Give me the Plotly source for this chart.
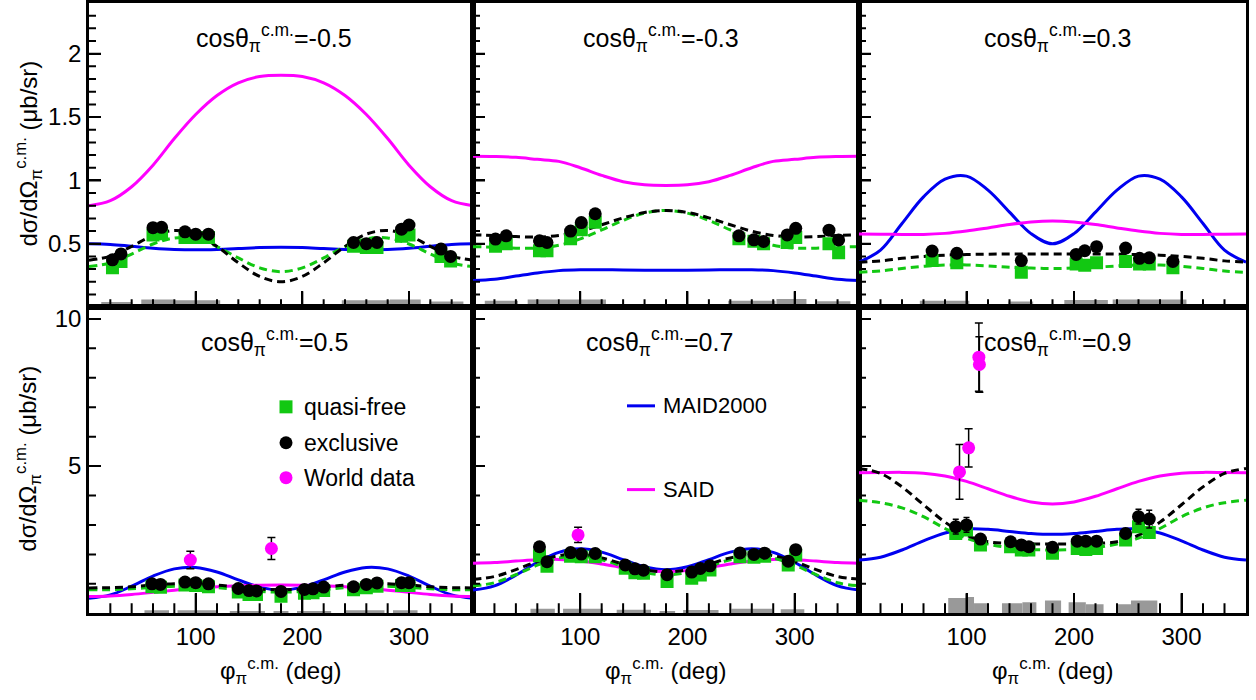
import plotly.graph_objects as go

W, H = 1256, 700
FONT = "Liberation Sans"

GREEN = "#12c812"
BLUE = "#0000f0"
MAGENTA = "#ff00ff"
GRAY = "#999999"

# ---------------- data ----------------
PHI_GRID = [0, 20, 40, 60, 80, 100, 120, 140, 160, 180, 200, 220, 240, 260, 280, 300, 320, 340, 360]
COS_LABELS = ["-0.5", "-0.3", "0.3", "0.5", "0.7", "0.9"]

# panel 1: cos = -0.5
said_1 = [0.80, 0.84, 0.95, 1.12, 1.33, 1.52, 1.67, 1.77, 1.82, 1.83, 1.82, 1.77, 1.67, 1.52, 1.33, 1.12, 0.95, 0.84, 0.80]
maid_1 = [0.50, 0.495, 0.48, 0.465, 0.455, 0.452, 0.455, 0.462, 0.47, 0.473, 0.47, 0.462, 0.455, 0.452, 0.455, 0.465, 0.48, 0.495, 0.50]
fitex_1 = [0.37, 0.402, 0.48, 0.564, 0.605, 0.576, 0.479, 0.35, 0.242, 0.20, 0.242, 0.35, 0.479, 0.576, 0.605, 0.564, 0.48, 0.402, 0.37]
fitqf_1 = [0.32, 0.348, 0.419, 0.498, 0.546, 0.539, 0.478, 0.388, 0.31, 0.28, 0.31, 0.388, 0.478, 0.539, 0.546, 0.498, 0.419, 0.348, 0.32]
phi_1 = [22, 30, 60, 68, 90, 100, 112, 248, 260, 270, 293, 300, 330, 339]
excl_1 = [0.373, 0.42, 0.627, 0.63, 0.594, 0.576, 0.576, 0.51, 0.50, 0.51, 0.615, 0.648, 0.458, 0.40]
qf_1 = [0.31, 0.36, 0.57, 0.58, 0.55, 0.55, 0.55, 0.48, 0.47, 0.47, 0.56, 0.57, 0.40, 0.365]
sys_lo_1 = [11.5, 49, 79, 237, 282, 319]
sys_hi_1 = [40.5, 79, 123, 282, 311, 351]
sys_h_1 = [0.04, 0.06, 0.055, 0.055, 0.06, 0.045]

# panel 2: cos = -0.3
said_2 = [1.19, 1.188, 1.182, 1.166, 1.15, 1.10, 1.04, 0.99, 0.965, 0.96, 0.965, 0.99, 1.04, 1.10, 1.15, 1.166, 1.182, 1.188, 1.19]
maid_2 = [0.21, 0.22, 0.245, 0.27, 0.288, 0.295, 0.295, 0.293, 0.292, 0.292, 0.292, 0.293, 0.295, 0.295, 0.288, 0.27, 0.245, 0.22, 0.21]
fitex_2 = [0.57, 0.565, 0.557, 0.553, 0.566, 0.599, 0.65, 0.704, 0.747, 0.763, 0.747, 0.704, 0.65, 0.599, 0.566, 0.553, 0.557, 0.565, 0.57]
fitqf_2 = [0.477, 0.473, 0.465, 0.466, 0.488, 0.538, 0.609, 0.684, 0.742, 0.763, 0.742, 0.684, 0.609, 0.538, 0.488, 0.466, 0.465, 0.473, 0.477]
phi_2 = [21, 31, 62, 69, 91, 101, 114, 248, 262, 271, 293, 301, 332, 341]
excl_2 = [0.537, 0.563, 0.523, 0.51, 0.60, 0.667, 0.737, 0.563, 0.531, 0.518, 0.57, 0.622, 0.607, 0.53]
qf_2 = [0.48, 0.50, 0.445, 0.445, 0.54, 0.61, 0.67, 0.54, 0.52, 0.50, 0.51, 0.55, 0.50, 0.43]
sys_lo_2 = [11, 51, 81, 238, 283, 321]
sys_hi_2 = [42, 79, 124, 282, 311, 352]
sys_h_2 = [0.05, 0.06, 0.06, 0.05, 0.065, 0.047]

# panel 3: cos = 0.3
said_3 = [0.578, 0.576, 0.574, 0.574, 0.582, 0.60, 0.625, 0.652, 0.672, 0.68, 0.672, 0.652, 0.625, 0.60, 0.582, 0.574, 0.574, 0.576, 0.578]
maid_3 = [0.355, 0.45, 0.66, 0.87, 1.01, 1.034, 0.923, 0.75, 0.58, 0.50, 0.58, 0.75, 0.923, 1.034, 1.01, 0.87, 0.66, 0.45, 0.355]
fitex_3 = [0.355, 0.365, 0.385, 0.40, 0.41, 0.415, 0.418, 0.42, 0.42, 0.42, 0.42, 0.42, 0.418, 0.415, 0.41, 0.40, 0.385, 0.365, 0.355]
fitqf_3 = [0.275, 0.285, 0.305, 0.322, 0.332, 0.333, 0.325, 0.315, 0.308, 0.305, 0.308, 0.315, 0.325, 0.333, 0.332, 0.322, 0.305, 0.285, 0.275]
phi_3 = [68, 91, 151, 202, 210, 221, 248, 261, 270, 292]
excl_3 = [0.442, 0.425, 0.367, 0.416, 0.445, 0.477, 0.466, 0.385, 0.389, 0.361]
qf_3 = [0.367, 0.35, 0.276, 0.34, 0.33, 0.35, 0.36, 0.34, 0.34, 0.31]
sys_lo_3 = [56.6, 139, 191, 236]
sys_hi_3 = [102.6, 162, 231.5, 304.6]
sys_h_3 = [0.05, 0.045, 0.057, 0.06]

# panel 4: cos = 0.5
said_4 = [0.57, 0.588, 0.638, 0.709, 0.785, 0.852, 0.904, 0.937, 0.955, 0.96, 0.955, 0.937, 0.904, 0.852, 0.785, 0.709, 0.638, 0.588, 0.57]
maid_4 = [0.51, 0.625, 0.919, 1.263, 1.508, 1.557, 1.403, 1.133, 0.888, 0.79, 0.888, 1.133, 1.403, 1.557, 1.508, 1.263, 0.919, 0.625, 0.51]
fitex_4 = [0.86, 0.87, 0.90, 0.96, 1.0, 1.0, 0.96, 0.88, 0.82, 0.80, 0.82, 0.88, 0.96, 1.0, 1.0, 0.96, 0.90, 0.87, 0.86]
fitqf_4 = [0.80, 0.80, 0.83, 0.88, 0.92, 0.92, 0.87, 0.80, 0.74, 0.72, 0.74, 0.80, 0.87, 0.92, 0.92, 0.88, 0.83, 0.80, 0.80]
phi_4 = [59, 67, 90, 100, 112, 140, 150, 157, 180, 202, 210, 220, 248, 260, 270, 293, 300]
excl_4 = [1.0, 0.98, 1.06, 1.04, 1.0, 0.84, 0.77, 0.76, 0.74, 0.81, 0.83, 0.89, 0.90, 0.98, 1.03, 1.04, 1.04]
qf_4 = [0.9, 0.88, 0.96, 0.94, 0.9, 0.72, 0.64, 0.64, 0.58, 0.68, 0.70, 0.77, 0.80, 0.87, 0.92, 0.94, 0.94]
world_phi_4 = [95, 171]
world_4 = [1.81, 2.2]
world_err_4 = [0.30, 0.37]
sys_lo_4 = [52, 83, 132, 173, 195, 240, 285]
sys_hi_4 = [75, 120, 165, 187, 227, 277, 308]
sys_h_4 = [0.10, 0.10, 0.08, 0.08, 0.08, 0.10, 0.10]

# panel 5: cos = 0.7
said_5 = [1.70, 1.721, 1.771, 1.819, 1.828, 1.777, 1.674, 1.549, 1.449, 1.41, 1.449, 1.549, 1.674, 1.777, 1.828, 1.819, 1.771, 1.721, 1.70]
maid_5 = [0.79, 0.931, 1.294, 1.731, 2.069, 2.189, 2.076, 1.823, 1.579, 1.48, 1.579, 1.823, 2.076, 2.189, 2.069, 1.731, 1.294, 0.931, 0.79]
fitex_5 = [1.155, 1.247, 1.482, 1.758, 1.957, 2.0, 1.881, 1.67, 1.478, 1.40, 1.478, 1.67, 1.881, 2.0, 1.957, 1.758, 1.482, 1.247, 1.155]
fitqf_5 = [0.93, 1.037, 1.31, 1.634, 1.873, 1.938, 1.819, 1.593, 1.384, 1.30, 1.384, 1.593, 1.819, 1.938, 1.873, 1.634, 1.31, 1.037, 0.93]
phi_5 = [62, 69, 91, 101, 114, 142, 151, 159, 181, 204, 212, 221, 249, 262, 272, 294, 301]
excl_5 = [2.26, 1.75, 2.06, 2.01, 2.03, 1.64, 1.51, 1.46, 1.31, 1.40, 1.52, 1.61, 2.05, 2.0, 2.04, 1.77, 2.16]
qf_5 = [1.95, 1.6, 1.94, 1.92, 1.92, 1.53, 1.38, 1.36, 1.08, 1.19, 1.3, 1.47, 1.92, 1.9, 1.94, 1.64, 1.98]
world_phi_5 = [98]
world_5 = [2.66]
world_err_5 = [0.26]
sys_lo_5 = [53.6, 84, 134, 174, 196, 241, 287]
sys_hi_5 = [76.3, 121, 166, 188.5, 229, 279, 309]
sys_h_5 = [0.15, 0.15, 0.12, 0.08, 0.11, 0.15, 0.14]

# panel 6: cos = 0.9
said_6 = [4.77, 4.778, 4.786, 4.76, 4.662, 4.478, 4.23, 3.974, 3.782, 3.71, 3.782, 3.974, 4.23, 4.478, 4.662, 4.76, 4.786, 4.778, 4.77]
maid_6 = [1.81, 1.904, 2.149, 2.459, 2.727, 2.86, 2.85, 2.78, 2.71, 2.68, 2.71, 2.78, 2.85, 2.86, 2.727, 2.459, 2.149, 1.904, 1.81]
fitex_6 = [4.92, 4.75, 4.293, 3.686, 3.096, 2.652, 2.43, 2.37, 2.35, 2.35, 2.35, 2.37, 2.43, 2.652, 3.096, 3.686, 4.293, 4.75, 4.92]
fitqf_6 = [3.84, 3.755, 3.58, 3.28, 2.88, 2.55, 2.351, 2.226, 2.166, 2.15, 2.166, 2.226, 2.351, 2.55, 2.88, 3.28, 3.58, 3.755, 3.84]
phi_6 = [90, 100, 113, 141, 151, 158, 180, 203, 211, 221, 248, 260, 270]
excl_6 = [2.94, 3.0, 2.52, 2.43, 2.32, 2.26, 2.24, 2.45, 2.45, 2.45, 2.71, 3.28, 3.2]
excl_err_6 = [0.25, 0.25, 0.1, 0.1, 0.1, 0.1, 0.1, 0.1, 0.1, 0.1, 0.1, 0.25, 0.3]
qf_6 = [2.71, 2.83, 2.32, 2.26, 2.15, 2.15, 2.04, 2.2, 2.17, 2.2, 2.49, 2.94, 2.74]
world_phi_6 = [93.5, 102, 111.5, 112]
world_6 = [4.80, 5.62, 8.70, 8.45]
world_err_6 = [0.93, 0.65, 1.16, 0.94]
sys_lo_6 = [83, 99.5, 107, 133, 152, 173, 195, 211, 240, 253]
sys_hi_6 = [99.5, 107, 120.6, 152, 165, 188, 211, 227.5, 253, 277.5]
sys_h_6 = [0.52, 0.55, 0.34, 0.34, 0.37, 0.43, 0.37, 0.31, 0.31, 0.43]

# tick positions
X_TICKS = [100, 200, 300]
X_MINOR = [20, 40, 60, 80, 120, 140, 160, 180, 220, 240, 260, 280, 320, 340]
Y_TICKS_TOP = [0.5, 1, 1.5, 2]
Y_MINOR_TOP = [0.1, 0.2, 0.3, 0.4, 0.6, 0.7, 0.8, 0.9, 1.1, 1.2, 1.3, 1.4, 1.6, 1.7, 1.8, 1.9, 2.1, 2.2, 2.3]
Y_TICKS_BOT = [5, 10]
Y_MINOR_BOT = [1, 2, 3, 4, 6, 7, 8, 9]

panels = [
    dict(said=said_1, maid=maid_1, fitex=fitex_1, fitqf=fitqf_1, phi=phi_1, excl=excl_1, qf=qf_1,
         lo=sys_lo_1, hi=sys_hi_1, h=sys_h_1),
    dict(said=said_2, maid=maid_2, fitex=fitex_2, fitqf=fitqf_2, phi=phi_2, excl=excl_2, qf=qf_2,
         lo=sys_lo_2, hi=sys_hi_2, h=sys_h_2),
    dict(said=said_3, maid=maid_3, fitex=fitex_3, fitqf=fitqf_3, phi=phi_3, excl=excl_3, qf=qf_3,
         lo=sys_lo_3, hi=sys_hi_3, h=sys_h_3),
    dict(said=said_4, maid=maid_4, fitex=fitex_4, fitqf=fitqf_4, phi=phi_4, excl=excl_4, qf=qf_4,
         lo=sys_lo_4, hi=sys_hi_4, h=sys_h_4, wphi=world_phi_4, w=world_4, werr=world_err_4),
    dict(said=said_5, maid=maid_5, fitex=fitex_5, fitqf=fitqf_5, phi=phi_5, excl=excl_5, qf=qf_5,
         lo=sys_lo_5, hi=sys_hi_5, h=sys_h_5, wphi=world_phi_5, w=world_5, werr=world_err_5),
    dict(said=said_6, maid=maid_6, fitex=fitex_6, fitqf=fitqf_6, phi=phi_6, excl=excl_6, qf=qf_6,
         lo=sys_lo_6, hi=sys_hi_6, h=sys_h_6, wphi=world_phi_6, w=world_6, werr=world_err_6,
         exerr=excl_err_6),
]

# ---------------- layout geometry (pixels) ----------------
COL_PX = [(89, 473), (473, 859), (859, 1246)]
ROW_PX = [(1, 306), (306, 613)]   # from top

def px_x(p):
    return p / W

def px_y(p):
    return 1 - p / H

fig = go.Figure()

for i, p in enumerate(panels):
    n = i + 1
    xa = "x" if n == 1 else f"x{n}"
    ya = "y" if n == 1 else f"y{n}"

    centers = [(a + b) / 2 for a, b in zip(p["lo"], p["hi"])]
    widths = [b - a for a, b in zip(p["lo"], p["hi"])]
    fig.add_trace(go.Bar(x=centers, y=p["h"], width=widths, base=0,
                         marker=dict(color=GRAY, line=dict(width=0)),
                         xaxis=xa, yaxis=ya, showlegend=False, hoverinfo="skip"))

    fig.add_trace(go.Scatter(x=PHI_GRID, y=p["maid"], mode="lines", line=dict(color=BLUE, width=3, shape="spline"),
                             xaxis=xa, yaxis=ya, showlegend=False))
    fig.add_trace(go.Scatter(x=PHI_GRID, y=p["said"], mode="lines", line=dict(color=MAGENTA, width=3, shape="spline"),
                             xaxis=xa, yaxis=ya, showlegend=False))
    fig.add_trace(go.Scatter(x=PHI_GRID, y=p["fitqf"], mode="lines",
                             line=dict(color=GREEN, width=3, dash="8px,5px", shape="spline"),
                             xaxis=xa, yaxis=ya, showlegend=False))
    fig.add_trace(go.Scatter(x=PHI_GRID, y=p["fitex"], mode="lines",
                             line=dict(color="black", width=3, dash="8px,5px", shape="spline"),
                             xaxis=xa, yaxis=ya, showlegend=False))

    fig.add_trace(go.Scatter(x=p["phi"], y=p["qf"], mode="markers",
                             marker=dict(symbol="square", size=13, color=GREEN, line=dict(width=0)),
                             xaxis=xa, yaxis=ya, showlegend=False))
    ex_kw = {}
    if "exerr" in p:
        ex_kw["error_y"] = dict(type="data", array=p["exerr"], color="black", thickness=1.5, width=3)
    fig.add_trace(go.Scatter(x=p["phi"], y=p["excl"], mode="markers",
                             marker=dict(symbol="circle", size=13, color="black", line=dict(width=0)),
                             xaxis=xa, yaxis=ya, showlegend=False, **ex_kw))
    if "w" in p:
        fig.add_trace(go.Scatter(x=p["wphi"], y=p["w"], mode="markers",
                                 marker=dict(symbol="circle", size=13, color=MAGENTA, line=dict(width=0)),
                                 error_y=dict(type="data", array=p["werr"], color="black", thickness=1.5, width=4),
                                 xaxis=xa, yaxis=ya, showlegend=False))

layout = dict(width=W, height=H, margin=dict(l=0, r=0, t=0, b=0),
              paper_bgcolor="white", plot_bgcolor="rgba(0,0,0,0)",
              font=dict(family=FONT, size=24, color="black"),
              barmode="overlay", showlegend=False)

tick_shapes = []
for i in range(6):
    n = i + 1
    row, col = divmod(i, 3)
    top = row == 0
    xa = "x" if n == 1 else f"x{n}"
    ya = "y" if n == 1 else f"y{n}"
    xk = "xaxis" if n == 1 else f"xaxis{n}"
    yk = "yaxis" if n == 1 else f"yaxis{n}"
    c0, c1 = COL_PX[col]
    r0, r1 = ROW_PX[row]
    xmaj = 16 if top else 20
    yt = Y_TICKS_TOP if top else Y_TICKS_BOT
    ym = Y_MINOR_TOP if top else Y_MINOR_BOT
    layout[xk] = dict(domain=[px_x(c0), px_x(c1)], range=[0, 360], anchor=ya,
                      showgrid=False, zeroline=False, showline=True, linecolor="black", linewidth=2.5, mirror=True,
                      ticks="inside", ticklen=xmaj, tickwidth=2, tickcolor="black",
                      tickmode="array", tickvals=X_TICKS, ticktext=[str(v) for v in X_TICKS],
                      showticklabels=not top, tickfont=dict(size=24, family=FONT))
    layout[yk] = dict(domain=[px_y(r1), px_y(r0)], range=[0, 2.4] if top else [0, 10.4],
                      anchor=xa,
                      showgrid=False, zeroline=False, showline=True, linecolor="black", linewidth=2.5, mirror=True,
                      ticks="inside", ticklen=12, tickwidth=2, tickcolor="black",
                      tickmode="array", tickvals=yt, ticktext=[f"{v:g}" for v in yt],
                      showticklabels=(col == 0), tickfont=dict(size=24, family=FONT))
    # inside tick marks drawn as pixel-sized shapes anchored on the axes' own scales
    for vals, ln in ((X_TICKS, xmaj), (X_MINOR, xmaj // 2)):
        for v in vals:
            tick_shapes.append(dict(type="line", xref=xa, yref=ya, x0=v, x1=v,
                                    ysizemode="pixel", yanchor=0, y0=0, y1=ln,
                                    line=dict(color="black", width=2), layer="above"))
    for vals, ln in ((yt, 12), (ym, 7)):
        for v in vals:
            tick_shapes.append(dict(type="line", xref=xa, yref=ya, y0=v, y1=v,
                                    xsizemode="pixel", xanchor=0, x0=0, x1=ln,
                                    line=dict(color="black", width=2), layer="above"))

layout["shapes"] = tick_shapes
fig.update_layout(**layout)

# panel titles
TITLE_X = [0.483, 0.487, 0.513, 0.483, 0.484, 0.512]
for i, lab in enumerate(COS_LABELS):
    n = i + 1
    xr = "x domain" if n == 1 else f"x{n} domain"
    yr = "y domain" if n == 1 else f"y{n} domain"
    fig.add_annotation(x=TITLE_X[i], y=0.885, xref=xr, yref=yr, xanchor="center", yanchor="middle",
                       text=f"cosθ<sub>π</sub><sup>c.m.</sup>={lab}", showarrow=False,
                       font=dict(size=25, family=FONT, color="black"))

# axis titles
ytitle = "dσ/dΩ<sub>π</sub><sup>c.m.</sup> (μb/sr)"
for yc in (152, 458):
    fig.add_annotation(x=px_x(28), y=px_y(yc), xref="paper", yref="paper", xanchor="center", yanchor="middle",
                       text=ytitle, textangle=-90, showarrow=False, font=dict(size=24, family=FONT))
xtitle = "φ<sub>π</sub><sup>c.m.</sup> (deg)"
for c0, c1 in COL_PX:
    fig.add_annotation(x=px_x((c0 + c1) / 2), y=px_y(671), xref="paper", yref="paper",
                       xanchor="center", yanchor="middle", text=xtitle, showarrow=False,
                       font=dict(size=24, family=FONT))

# legend (panel 4 markers, panel 5 lines)
LEG_MARK = [("quasi-free", "rect", GREEN, 406), ("exclusive", "circle", "black", 442),
            ("World data", "circle", MAGENTA, 477)]
for label, shp, colr, yc in LEG_MARK:
    fig.add_shape(type=shp, xref="paper", yref="paper", xsizemode="pixel", ysizemode="pixel",
                  xanchor=px_x(286), yanchor=px_y(yc), x0=-6.5, x1=6.5, y0=-6.5, y1=6.5,
                  fillcolor=colr, line=dict(width=0))
    fig.add_annotation(x=px_x(302), y=px_y(yc), xref="paper", yref="paper", xanchor="left", yanchor="middle",
                       text=label, showarrow=False, font=dict(size=23, family=FONT))
LEG_LINE = [("MAID2000", BLUE, 405), ("SAID", MAGENTA, 489)]
for label, colr, yc in LEG_LINE:
    fig.add_shape(type="line", xref="paper", yref="paper", x0=px_x(627), x1=px_x(655), y0=px_y(yc), y1=px_y(yc),
                  line=dict(color=colr, width=3))
    fig.add_annotation(x=px_x(661), y=px_y(yc), xref="paper", yref="paper", xanchor="left", yanchor="middle",
                       text=label, showarrow=False, font=dict(size=22, family=FONT))

fig.write_html("out.html")
